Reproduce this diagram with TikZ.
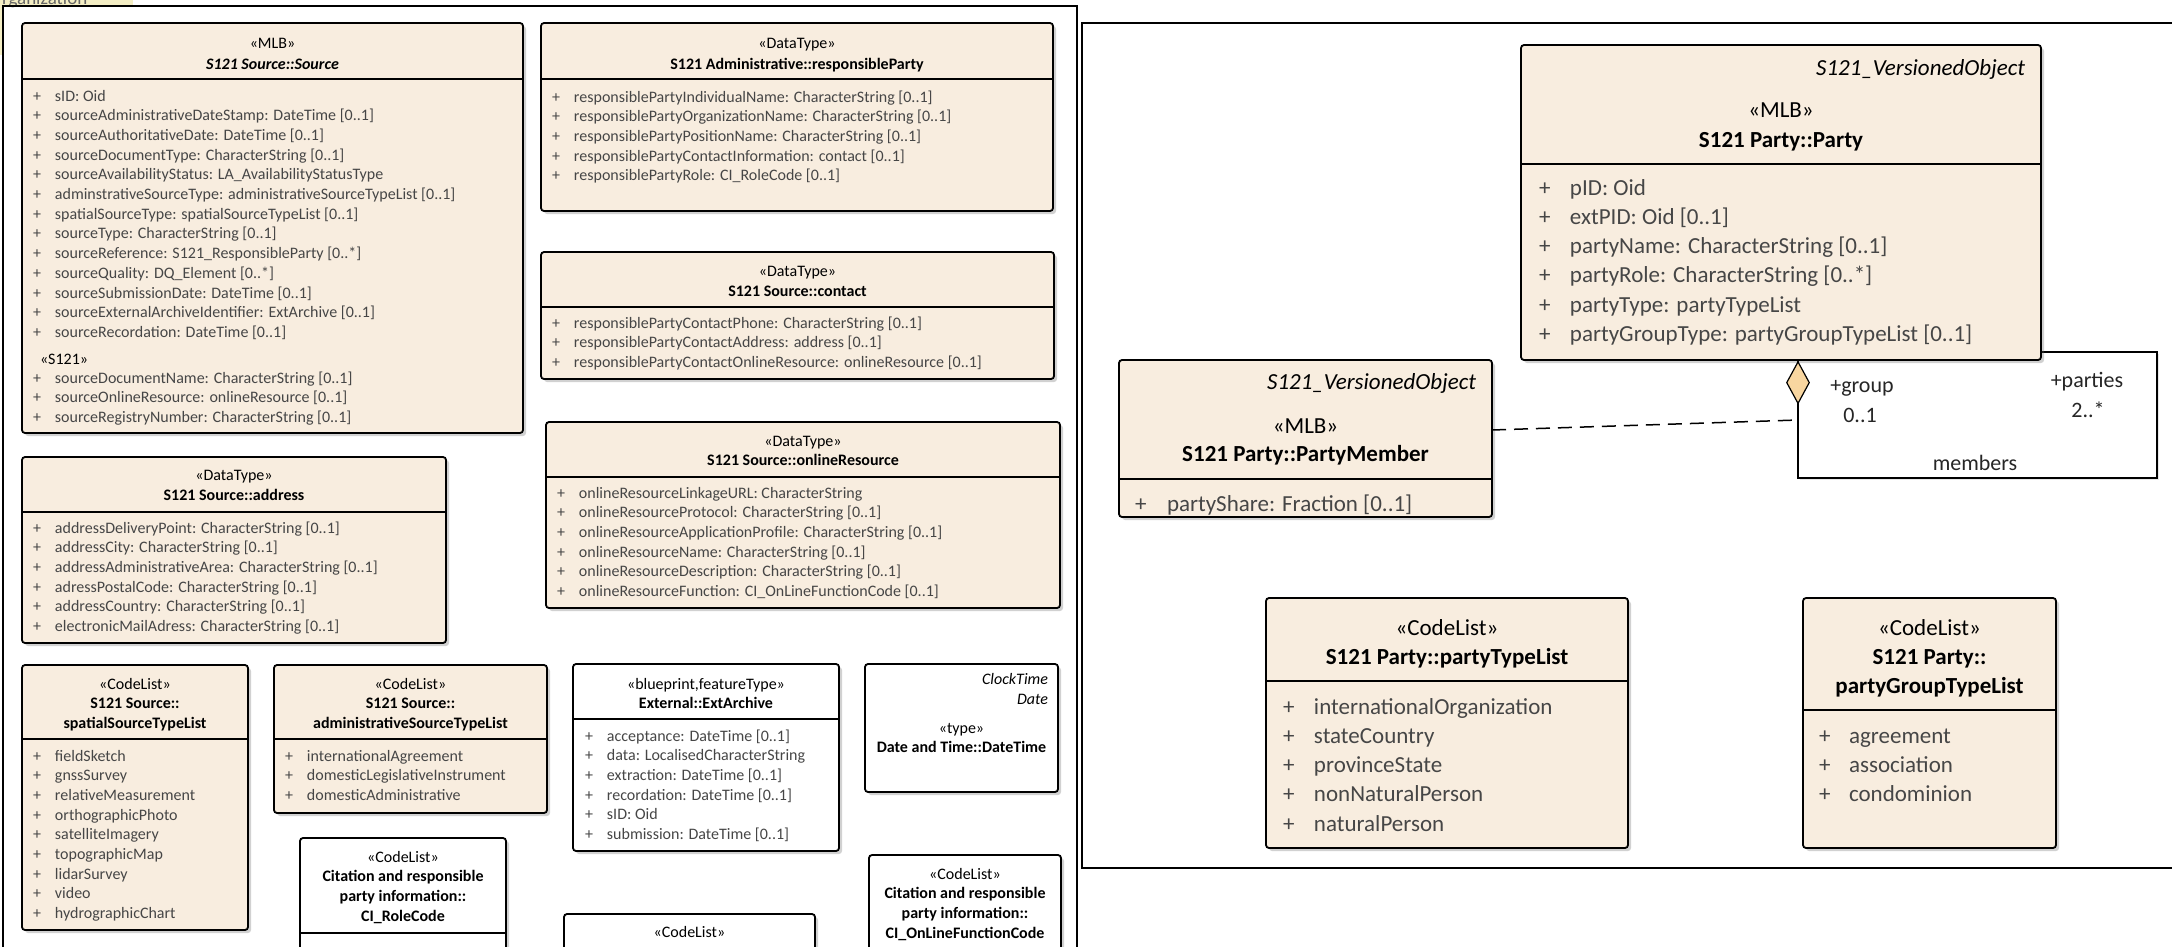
\documentclass[tikz,border=0pt]{standalone}
\usepackage{fontspec}
\setmainfont{Carlito}
\usetikzlibrary{shadows,fit,shapes.geometric}
\definecolor{classfill}{RGB}{248,237,223}
\definecolor{attrgray}{RGB}{70,70,70}
\definecolor{tabyellow}{RGB}{244,238,196}
\definecolor{aggfill}{RGB}{248,214,160}

\begin{document}
\begin{tikzpicture}[x=1pt,y=-1pt,
  umlbox/.style={draw=black, line width=1.8pt, rounded corners=3pt, fill=classfill,
    inner sep=0pt, outer sep=0pt,
    drop shadow={shadow xshift=3pt, shadow yshift=-3pt, opacity=0.3, fill=black!60}},
  whitebox/.style={umlbox, fill=white},
  sepline/.style={line width=1.2pt},
  frame/.style={line width=1.8pt},
  sm/.style={font=\fontsize{16}{19.7}\selectfont, inner sep=0pt, outer sep=0pt},
  lg/.style={font=\fontsize{23}{29.3}\selectfont, inner sep=0pt, outer sep=0pt},
  attr/.style={text=attrgray, anchor=base west},
  hd/.style={anchor=base, text=black, align=center},
  hdr/.style={anchor=base east, text=black},
  assoclabel/.style={font=\fontsize{22}{26}\selectfont, inner sep=0pt, anchor=base, text=black!85},
  conn/.style={line width=1.5pt, dash pattern=on 14pt off 8pt},
]
\useasboundingbox (0,0) rectangle (2172,946);
\clip (0,0) rectangle (2172,946);

% package tab at the top left corner
\fill[tabyellow] (0,-10) rectangle (133,6);
\fill[tabyellow] (0,0) rectangle (3,55);
\node[font=\fontsize{19}{22}\selectfont, text=black!60, inner sep=0pt, anchor=base west] (pkgtab) at (2,4) {rganization};

% panel frames
\draw[frame] (3,6) rectangle (1077,990);
\draw[frame] (1082,23) rectangle (2200,868);

% ---------------- S121 Source::Source ----------------
\node[umlbox, fit={(22,23) (523,433)}] (src) {};
\draw[sepline] (src.west |- 0,79) -- (src.east |- 0,79);
\node[sm, hd] (src-st) at (src.center |- 0,48) {«MLB»};
\node[sm, hd, font=\fontsize{16}{19.7}\selectfont\bfseries\itshape] (src-nm) at (src.center |- 0,69) {S121 Source::Source};
\node[sm, attr] (src-a) at (33,101) {\begin{tabular}[t]{@{}p{22pt}@{}l@{}}
+ & sID: Oid\\
+ & sourceAdministrativeDateStamp: DateTime [0..1]\\
+ & sourceAuthoritativeDate: DateTime [0..1]\\
+ & sourceDocumentType: CharacterString [0..1]\\
+ & sourceAvailabilityStatus: LA\_AvailabilityStatusType\\
+ & adminstrativeSourceType: administrativeSourceTypeList [0..1]\\
+ & spatialSourceType: spatialSourceTypeList [0..1]\\
+ & sourceType: CharacterString [0..1]\\
+ & sourceReference: S121\_ResponsibleParty [0..*]\\
+ & sourceQuality: DQ\_Element [0..*]\\
+ & sourceSubmissionDate: DateTime [0..1]\\
+ & sourceExternalArchiveIdentifier: ExtArchive [0..1]\\
+ & sourceRecordation: DateTime [0..1]
\end{tabular}};
\node[sm, anchor=base west, text=black] (src-s121) at (40,364) {«S121»};
\node[sm, attr] (src-b) at (33,383) {\begin{tabular}[t]{@{}p{22pt}@{}l@{}}
+ & sourceDocumentName: CharacterString [0..1]\\
+ & sourceOnlineResource: onlineResource [0..1]\\
+ & sourceRegistryNumber: CharacterString [0..1]
\end{tabular}};

% ---------------- S121 Administrative::responsibleParty ----------------
\node[umlbox, fit={(541,23) (1053,211)}] (rp) {};
\draw[sepline] (rp.west |- 0,79) -- (rp.east |- 0,79);
\node[sm, hd] (rp-st) at (rp.center |- 0,48) {«DataType»};
\node[sm, hd, font=\fontsize{16}{19.7}\selectfont\bfseries] (rp-nm) at (rp.center |- 0,69) {S121 Administrative::responsibleParty};
\node[sm, attr] (rp-a) at (552,102) {\begin{tabular}[t]{@{}p{22pt}@{}l@{}}
+ & responsiblePartyIndividualName: CharacterString [0..1]\\
+ & responsiblePartyOrganizationName: CharacterString [0..1]\\
+ & responsiblePartyPositionName: CharacterString [0..1]\\
+ & responsiblePartyContactInformation: contact [0..1]\\
+ & responsiblePartyRole: CI\_RoleCode [0..1]
\end{tabular}};

% ---------------- S121 Source::contact ----------------
\node[umlbox, fit={(541,252) (1054,379)}] (ct) {};
\draw[sepline] (ct.west |- 0,307) -- (ct.east |- 0,307);
\node[sm, hd] (ct-st) at (ct.center |- 0,276) {«DataType»};
\node[sm, hd, font=\fontsize{16}{19.7}\selectfont\bfseries] (ct-nm) at (ct.center |- 0,296) {S121 Source::contact};
\node[sm, attr] (ct-a) at (552,328) {\begin{tabular}[t]{@{}p{22pt}@{}l@{}}
+ & responsiblePartyContactPhone: CharacterString [0..1]\\
+ & responsiblePartyContactAddress: address [0..1]\\
+ & responsiblePartyContactOnlineResource: onlineResource [0..1]
\end{tabular}};

% ---------------- S121 Source::onlineResource ----------------
\node[umlbox, fit={(546,422) (1060,608)}] (olr) {};
\draw[sepline] (olr.west |- 0,477) -- (olr.east |- 0,477);
\node[sm, hd] (olr-st) at (olr.center |- 0,446) {«DataType»};
\node[sm, hd, font=\fontsize{16}{19.7}\selectfont\bfseries] (olr-nm) at (olr.center |- 0,465) {S121 Source::onlineResource};
\node[sm, attr] (olr-a) at (557,498) {\begin{tabular}[t]{@{}p{22pt}@{}l@{}}
+ & onlineResourceLinkageURL: CharacterString\\
+ & onlineResourceProtocol: CharacterString [0..1]\\
+ & onlineResourceApplicationProfile: CharacterString [0..1]\\
+ & onlineResourceName: CharacterString [0..1]\\
+ & onlineResourceDescription: CharacterString [0..1]\\
+ & onlineResourceFunction: CI\_OnLineFunctionCode [0..1]
\end{tabular}};

% ---------------- S121 Source::address ----------------
\node[umlbox, fit={(22,457) (446,643)}] (adr) {};
\draw[sepline] (adr.west |- 0,512) -- (adr.east |- 0,512);
\node[sm, hd] (adr-st) at (adr.center |- 0,480) {«DataType»};
\node[sm, hd, font=\fontsize{16}{19.7}\selectfont\bfseries] (adr-nm) at (adr.center |- 0,500) {S121 Source::address};
\node[sm, attr] (adr-a) at (33,533) {\begin{tabular}[t]{@{}p{22pt}@{}l@{}}
+ & addressDeliveryPoint: CharacterString [0..1]\\
+ & addressCity: CharacterString [0..1]\\
+ & addressAdministrativeArea: CharacterString [0..1]\\
+ & adressPostalCode: CharacterString [0..1]\\
+ & addressCountry: CharacterString [0..1]\\
+ & electronicMailAdress: CharacterString [0..1]
\end{tabular}};

% ---------------- S121 Source::spatialSourceTypeList ----------------
\node[umlbox, fit={(22,665) (248,930)}] (sp) {};
\draw[sepline] (sp.west |- 0,739) -- (sp.east |- 0,739);
\node[sm, hd] (sp-nm) at (sp.center |- 0,689) {\begin{tabular}[t]{@{}c@{}}«CodeList»\\ \textbf{S121 Source::}\\ \textbf{spatialSourceTypeList}\end{tabular}};
\node[sm, attr] (sp-a) at (33,761) {\begin{tabular}[t]{@{}p{22pt}@{}l@{}}
+ & fieldSketch\\
+ & gnssSurvey\\
+ & relativeMeasurement\\
+ & orthographicPhoto\\
+ & satelliteImagery\\
+ & topographicMap\\
+ & lidarSurvey\\
+ & video\\
+ & hydrographicChart
\end{tabular}};

% ---------------- S121 Source::administrativeSourceTypeList ----------------
\node[umlbox, fit={(274,665) (547,813)}] (ad) {};
\draw[sepline] (ad.west |- 0,739) -- (ad.east |- 0,739);
\node[sm, hd] (ad-nm) at (ad.center |- 0,689) {\begin{tabular}[t]{@{}c@{}}«CodeList»\\ \textbf{S121 Source::}\\ \textbf{administrativeSourceTypeList}\end{tabular}};
\node[sm, attr] (ad-a) at (285,761) {\begin{tabular}[t]{@{}p{22pt}@{}l@{}}
+ & internationalAgreement\\
+ & domesticLegislativeInstrument\\
+ & domesticAdministrative
\end{tabular}};

% ---------------- CI_RoleCode ----------------
\node[whitebox, fit={(300,838) (506,990)}] (role) {};
\draw[sepline] (role.west |- 0,933) -- (role.east |- 0,933);
\node[sm, hd] (role-nm) at (role.center |- 0,862) {\begin{tabular}[t]{@{}c@{}}«CodeList»\\ \textbf{Citation and responsible}\\ \textbf{party information::}\\ \textbf{CI\_RoleCode}\end{tabular}};

% ---------------- External::ExtArchive ----------------
\node[whitebox, fit={(573,664) (839,851)}] (ext) {};
\draw[sepline] (ext.west |- 0,719) -- (ext.east |- 0,719);
\node[sm, hd] (ext-st) at (ext.center |- 0,689) {«blueprint,featureType»};
\node[sm, hd, font=\fontsize{16}{19.7}\selectfont\bfseries] (ext-nm) at (ext.center |- 0,708) {External::ExtArchive};
\node[sm, attr] (ext-a) at (585,741) {\begin{tabular}[t]{@{}p{22pt}@{}l@{}}
+ & acceptance: DateTime [0..1]\\
+ & data: LocalisedCharacterString\\
+ & extraction: DateTime [0..1]\\
+ & recordation: DateTime [0..1]\\
+ & sID: Oid\\
+ & submission: DateTime [0..1]
\end{tabular}};

% ---------------- Date and Time::DateTime ----------------
\node[whitebox, fit={(865,664) (1058,792)}] (dt) {};
\node[sm, hdr, font=\fontsize{16}{19.7}\selectfont\itshape] (dt-p1) at (1048,684) {ClockTime};
\node[sm, hdr, font=\fontsize{16}{19.7}\selectfont\itshape] (dt-p2) at (1048,704) {Date};
\node[sm, hd] (dt-st) at (dt.center |- 0,733) {«type»};
\node[sm, hd, font=\fontsize{16}{19.7}\selectfont\bfseries] (dt-nm) at (dt.center |- 0,752) {Date and Time::DateTime};

% ---------------- CI_OnLineFunctionCode ----------------
\node[whitebox, fit={(869,855) (1061,990)}] (olf) {};
\node[sm, hd] (olf-nm) at (olf.center |- 0,879) {\begin{tabular}[t]{@{}c@{}}«CodeList»\\ \textbf{Citation and responsible}\\ \textbf{party information::}\\ \textbf{CI\_OnLineFunctionCode}\end{tabular}};

% ---------------- code list at the lower edge ----------------
\node[whitebox, fit={(564,914) (815,990)}] (cl3) {};
\node[sm, hd] (cl3-st) at (cl3.center |- 0,937) {«CodeList»};

% ================= Party package =================
% association class label box (behind the Party class)
\node[draw=black, line width=1.2pt, fill=white, inner sep=0pt, outer sep=0pt,
      drop shadow={shadow xshift=2pt, shadow yshift=-2pt, opacity=0.2, fill=black!50},
      fit={(1798,352) (2157,478)}] (memb) {};
\node[assoclabel] (l-group) at (1862,392) {+group};
\node[assoclabel] (l-gmult) at (1860,422) {0..1};
\node[assoclabel] (l-parties) at (2087,387) {+parties};
\node[assoclabel] (l-pmult) at (2088,417) {2..*};
\node[assoclabel] (l-memb) at (1975,470) {members};

% S121 Party::Party
\node[umlbox, fit={(1521,45) (2041,360)}] (party) {};
\draw[sepline] (party.west |- 0,164) -- (party.east |- 0,164);
\node[lg, hdr, font=\fontsize{23}{29.3}\selectfont\itshape] (party-p) at (2025,75) {S121\_VersionedObject};
\node[lg, hd] (party-st) at (party.center |- 0,117) {«MLB»};
\node[lg, hd, font=\fontsize{23}{29.3}\selectfont\bfseries] (party-nm) at (party.center |- 0,147) {S121 Party::Party};
\node[lg, attr] (party-a) at (1539,195) {\begin{tabular}[t]{@{}p{31pt}@{}l@{}}
+ & pID: Oid\\
+ & extPID: Oid [0..1]\\
+ & partyName: CharacterString [0..1]\\
+ & partyRole: CharacterString [0..*]\\
+ & partyType: partyTypeList\\
+ & partyGroupType: partyGroupTypeList [0..1]
\end{tabular}};

% aggregation diamond on the Party side
\node[diamond, draw=black, line width=1.2pt, fill=aggfill, inner sep=0pt,
      minimum width=23pt, minimum height=42pt, anchor=north] (agg) at (1798,361) {};

% S121 Party::PartyMember
\node[umlbox, fit={(1119,360) (1492,517)}] (pm) {};
\draw[sepline] (pm.west |- 0,479) -- (pm.east |- 0,479);
\node[lg, hdr, font=\fontsize{23}{29.3}\selectfont\itshape] (pm-p) at (1476,389) {S121\_VersionedObject};
\node[lg, hd] (pm-st) at (pm.center |- 0,433) {«MLB»};
\node[lg, hd, font=\fontsize{23}{29.3}\selectfont\bfseries] (pm-nm) at (pm.center |- 0,461) {S121 Party::PartyMember};
\node[lg, attr] (pm-a) at (1135,511) {\begin{tabular}[t]{@{}p{32pt}@{}l@{}}
+ & partyShare: Fraction [0..1]
\end{tabular}};

% dashed link from the association class
\draw[conn] (pm.east |- 0,430) -- (memb.west |- 0,420);

% S121 Party::partyTypeList
\node[umlbox, fit={(1266,598) (1628,848)}] (ptl) {};
\draw[sepline] (ptl.west |- 0,681) -- (ptl.east |- 0,681);
\node[lg, hd] (ptl-st) at (ptl.center |- 0,635) {«CodeList»};
\node[lg, hd, font=\fontsize{23}{29.3}\selectfont\bfseries] (ptl-nm) at (ptl.center |- 0,664) {S121 Party::partyTypeList};
\node[lg, attr] (ptl-a) at (1283,714) {\begin{tabular}[t]{@{}p{31pt}@{}l@{}}
+ & internationalOrganization\\
+ & stateCountry\\
+ & provinceState\\
+ & nonNaturalPerson\\
+ & naturalPerson
\end{tabular}};

% S121 Party::partyGroupTypeList
\node[umlbox, fit={(1803,598) (2056,848)}] (pgl) {};
\draw[sepline] (pgl.west |- 0,710) -- (pgl.east |- 0,710);
\node[lg, hd] (pgl-nm) at (pgl.center |- 0,635) {\begin{tabular}[t]{@{}c@{}}«CodeList»\\ \textbf{S121 Party::}\\ \textbf{partyGroupTypeList}\end{tabular}};
\node[lg, attr] (pgl-a) at (1819,743) {\begin{tabular}[t]{@{}p{30pt}@{}l@{}}
+ & agreement\\
+ & association\\
+ & condominion
\end{tabular}};

\end{tikzpicture}
\end{document}
